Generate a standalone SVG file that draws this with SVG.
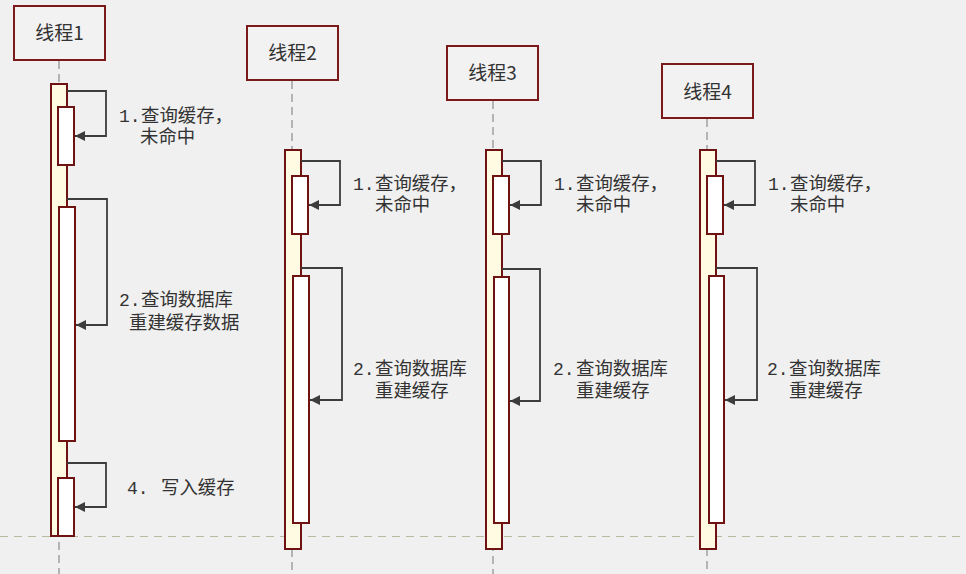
<svg xmlns="http://www.w3.org/2000/svg" width="966" height="574" viewBox="0 0 966 574">
<style>
.bg{fill:#f0f0f0}
.head{fill:#f2f2f2;stroke:#7a1a1a;stroke-width:2}
.title{font-family:"Noto Sans CJK SC","Noto Sans",sans-serif;font-size:19px;fill:#333;text-anchor:middle}
.life{stroke:#b4b4b4;stroke-width:2;stroke-dasharray:8 5;fill:none}
.outer{fill:#fffbe2;stroke:#6e1212;stroke-width:2}
.inner{fill:#ffffff;stroke:#6e1212;stroke-width:2}
.msg{fill:none;stroke:#3c3c3c;stroke-width:1.8;marker-end:url(#ah)}
.lbl{font-family:"Liberation Sans","Noto Sans CJK SC",sans-serif;font-size:18.4px;fill:#333}
.num{font-family:"Liberation Mono",monospace;font-size:18px}
.sep{stroke:#b9b9a0;stroke-width:1.2;stroke-dasharray:8 6}
</style>
<defs>
<marker id="ah" viewBox="0 0 10 10" refX="10" refY="5" markerWidth="11" markerHeight="10" markerUnits="userSpaceOnUse" orient="auto">
<path d="M0,0 L10,5 L0,10 z" fill="#3c3c3c"/>
</marker>
</defs>
<rect class="bg" x="0" y="0" width="966" height="574"/>
<line class="sep" x1="0" y1="536.5" x2="966" y2="536.5"/>

<g id="thread1">
<rect class="head" x="14" y="6" width="91" height="54"/>
<text class="title" x="59.5" y="40">线程1</text>
<line class="life" x1="59" y1="61" x2="59" y2="574"/>
<rect class="outer" x="51" y="84" width="16" height="452"/>
<rect class="inner" x="58" y="107" width="16" height="58"/>
<rect class="inner" x="59" y="207" width="16" height="234"/>
<rect class="inner" x="58" y="478" width="16" height="58"/>
</g>

<g id="thread2">
<rect class="head" x="247" y="26" width="91" height="54"/>
<text class="title" x="292.5" y="60">线程2</text>
<line class="life" x1="292" y1="81" x2="292" y2="574"/>
<rect class="outer" x="285" y="150" width="16" height="399"/>
<rect class="inner" x="292" y="176" width="16" height="58"/>
<rect class="inner" x="293" y="276" width="16" height="247"/>
</g>

<g id="thread3">
<rect class="head" x="447" y="46" width="91" height="54"/>
<text class="title" x="492.5" y="80">线程3</text>
<line class="life" x1="493" y1="101" x2="493" y2="574"/>
<rect class="outer" x="486" y="150" width="16" height="399"/>
<rect class="inner" x="493" y="176" width="16" height="58"/>
<rect class="inner" x="494" y="277" width="15" height="246"/>
</g>

<g id="thread4">
<rect class="head" x="662" y="64" width="91" height="54"/>
<text class="title" x="707.5" y="99">线程4</text>
<line class="life" x1="707" y1="119" x2="707" y2="574"/>
<rect class="outer" x="700" y="150" width="16" height="399"/>
<rect class="inner" x="707" y="176" width="16" height="58"/>
<rect class="inner" x="709" y="276" width="15" height="247"/>
</g>

<g id="connectors">
<path class="msg" d="M67,91 H106 V136 H75"/>
<path class="msg" d="M67,199 H107 V325 H76"/>
<path class="msg" d="M67,463 H106 V507 H75"/>
<path class="msg" d="M301,161 H340 V205 H309"/>
<path class="msg" d="M301,268 H342 V400 H310"/>
<path class="msg" d="M502,161 H541 V205 H510"/>
<path class="msg" d="M502,269 H540 V401 H510"/>
<path class="msg" d="M716,161 H755 V205 H724"/>
<path class="msg" d="M716,268 H757 V400 H725"/>
</g>

<g id="labels">
<text class="lbl"><tspan class="num" x="119" y="122">1.</tspan><tspan x="141" y="122">查询缓存，</tspan><tspan x="140" y="143">未命中</tspan></text>
<text class="lbl"><tspan class="num" x="119" y="306">2.</tspan><tspan x="141" y="306">查询数据库</tspan><tspan x="129" y="329">重建缓存数据</tspan></text>
<text class="lbl"><tspan class="num" x="127" y="494">4.</tspan><tspan x="161" y="494">写入缓存</tspan></text>

<text class="lbl"><tspan class="num" x="353" y="190">1.</tspan><tspan x="375" y="190">查询缓存，</tspan><tspan x="375" y="211">未命中</tspan></text>
<text class="lbl"><tspan class="num" x="353" y="375">2.</tspan><tspan x="375" y="375">查询数据库</tspan><tspan x="375" y="397">重建缓存</tspan></text>

<text class="lbl"><tspan class="num" x="554" y="190">1.</tspan><tspan x="576" y="190">查询缓存，</tspan><tspan x="576" y="211">未命中</tspan></text>
<text class="lbl"><tspan class="num" x="553" y="375">2.</tspan><tspan x="576" y="375">查询数据库</tspan><tspan x="576" y="397">重建缓存</tspan></text>

<text class="lbl"><tspan class="num" x="768" y="190">1.</tspan><tspan x="790" y="190">查询缓存，</tspan><tspan x="790" y="211">未命中</tspan></text>
<text class="lbl"><tspan class="num" x="767" y="375">2.</tspan><tspan x="789" y="375">查询数据库</tspan><tspan x="789" y="397">重建缓存</tspan></text>
</g>
</svg>
